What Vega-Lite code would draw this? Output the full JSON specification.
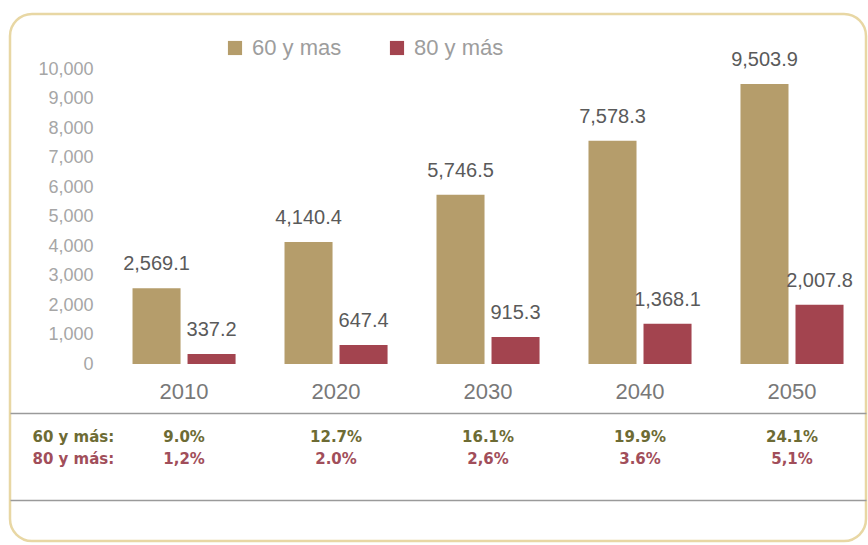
{
  "$schema": "https://vega.github.io/schema/vega-lite/v6.json",
  "width": 856,
  "height": 527,
  "autosize": {"type": "none"},
  "padding": {"left": 10, "top": 14, "right": 2, "bottom": 4},
  "background": "white",
  "config": {
    "view": {"stroke": "#e8d7a4", "strokeWidth": 2.5, "cornerRadius": 22, "fill": "white"},
    "font": "Liberation Sans",
    "axis": {"grid": false, "ticks": false, "tickSize": 0, "title": null}
  },
  "data": {
    "values": [
      {"year": "2010", "series": "60 y más", "value": 2569.1, "pct": "9.0%"},
      {"year": "2010", "series": "80 y más", "value": 337.2, "pct": "1,2%"},
      {"year": "2020", "series": "60 y más", "value": 4140.4, "pct": "12.7%"},
      {"year": "2020", "series": "80 y más", "value": 647.4, "pct": "2.0%"},
      {"year": "2030", "series": "60 y más", "value": 5746.5, "pct": "16.1%"},
      {"year": "2030", "series": "80 y más", "value": 915.3, "pct": "2,6%"},
      {"year": "2040", "series": "60 y más", "value": 7578.3, "pct": "19.9%"},
      {"year": "2040", "series": "80 y más", "value": 1368.1, "pct": "3.6%"},
      {"year": "2050", "series": "60 y más", "value": 9503.9, "pct": "24.1%"},
      {"year": "2050", "series": "80 y más", "value": 2007.8, "pct": "5,1%"}
    ]
  },
  "layer": [
    {
      "layer": [
        {
          "mark": {"type": "bar"},
          "encoding": {
            "x": {
              "field": "year", "type": "nominal",
              "scale": {"type": "band", "paddingInner": 0.322, "paddingOuter": 0.477, "align": 0.845},
              "axis": {"orient": "bottom", "offset": -41, "labels": false, "domain": true, "domainColor": "#9a9a9a", "domainWidth": 1.5}
            },
            "xOffset": {"field": "series", "type": "nominal", "scale": {"paddingInner": 0.127, "paddingOuter": 0}},
            "y": {
              "field": "value", "type": "quantitative",
              "scale": {"domain": [0, 10000], "range": [350, 55.5], "nice": false},
              "axis": {"orient": "left", "offset": -83, "domain": false, "labelPadding": 0, "labelFontSize": 18, "labelColor": "#a6a6a6", "format": ",.0f", "values": [0, 1000, 2000, 3000, 4000, 5000, 6000, 7000, 8000, 9000, 10000]}
            },
            "color": {
              "field": "series", "type": "nominal",
              "scale": {"domain": ["60 y más", "80 y más"], "range": ["#b59d6b", "#a3444f"]},
              "legend": {
                "orient": "none", "legendX": 214, "legendY": 23, "direction": "horizontal", "title": null,
                "symbolType": "square", "symbolSize": 200, "symbolStrokeWidth": 0, "symbolOpacity": 1,
                "labelFontSize": 22, "labelColor": "#9d9d9d", "columnPadding": 44, "labelOffset": 6, "padding": 0,
                "labelExpr": "datum.label == '60 y más' ? '60 y mas' : datum.label"
              }
            }
          }
        },
        {
          "mark": {"type": "text", "dy": -24, "fontSize": 20, "color": "#5a5a5a"},
          "encoding": {
            "x": {"field": "year", "type": "nominal", "scale": {"type": "band", "paddingInner": 0.322, "paddingOuter": 0.477, "align": 0.845}},
            "xOffset": {"field": "series", "type": "nominal", "scale": {"paddingInner": 0.127, "paddingOuter": 0}},
            "y": {"field": "value", "type": "quantitative"},
            "text": {"field": "value", "type": "quantitative", "format": ",.1f"}
          }
        }
      ]
    },
    {
      "layer": [
        {
          "mark": {"type": "text", "font": "DejaVu Sans", "fontWeight": "bold", "fontSize": 15},
          "encoding": {
            "x": {
              "field": "year", "type": "nominal",
              "scale": {"type": "band", "paddingInner": 0.322, "paddingOuter": 0.477, "align": 0.845},
              "axis": {"orient": "top", "offset": -399, "labelAngle": 0, "labelFontSize": 22, "labelColor": "#787878", "labelPadding": 10, "domain": true, "domainColor": "#9a9a9a", "domainWidth": 1.5}
            },
            "y": {
              "field": "series", "type": "nominal",
              "scale": {"type": "band", "domain": ["60 y más", "80 y más"], "range": [412, 456], "paddingInner": 0, "paddingOuter": 0},
              "axis": {
                "orient": "right", "offset": -834, "domain": false, "labelPadding": 0, "labelAlign": "left",
                "labelFont": "DejaVu Sans", "labelFontWeight": "bold", "labelFontSize": 15,
                "labelExpr": "datum.label + ':'",
                "labelColor": {"condition": {"test": "datum.value == '60 y más'", "value": "#6d6b34"}, "value": "#a14e5a"}
              }
            },
            "color": {
              "field": "series", "type": "nominal",
              "scale": {"domain": ["60 y más", "80 y más"], "range": ["#6d6b34", "#a14e5a"]},
              "legend": null
            },
            "text": {"field": "pct", "type": "nominal"}
          }
        }
      ]
    }
  ],
  "resolve": {
    "scale": {"y": "independent", "color": "independent"},
    "axis": {"x": "independent", "y": "independent"},
    "legend": {"color": "independent"}
  }
}
